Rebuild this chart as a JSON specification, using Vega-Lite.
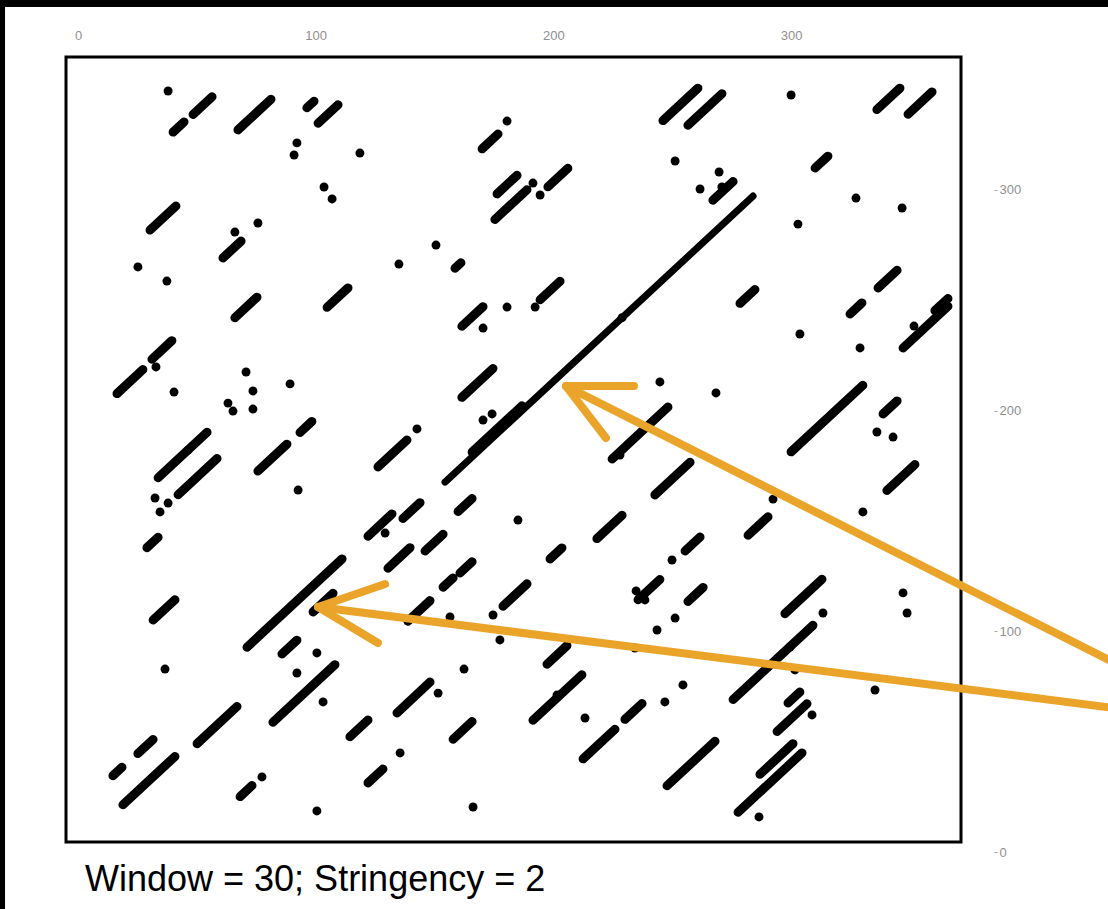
{
  "$schema": "https://vega.github.io/schema/vega-lite/v6.json",
  "width": 895,
  "height": 795,
  "autosize": {"type": "none"},
  "padding": {"left": 66, "top": 57, "right": 147, "bottom": 57},
  "background": "white",
  "config": {"view": {"stroke": null}, "font": "Liberation Sans"},
  "title": {"text": "Window = 30; Stringency = 2", "orient": "bottom", "anchor": "start", "frame": "group", "dx": 19, "offset": -24, "baseline": "alphabetic", "fontSize": 36, "fontWeight": "normal", "color": "black", "font": "Liberation Sans"},
  "datasets": {
    "frame": [{"x": -5.05, "x2": 371.48, "y": 4.53, "y2": 360.22}],
    "border": [{"x": -41.2, "x2": 442.6, "y": 382.9, "y2": 395.1}, {"x": -41.2, "x2": -30.7, "y": -28.5, "y2": 395.1}],
    "diagonal": [{"x": 154.4, "y": 167.6, "x2": 284.0, "y2": 297.2}],
    "segments": [
      {"x": 40.0, "y": 326.2, "x2": 44.6, "y2": 330.8},
      {"x": 48.4, "y": 334.2, "x2": 56.4, "y2": 342.2},
      {"x": 67.3, "y": 327.2, "x2": 81.2, "y2": 341.1},
      {"x": 96.3, "y": 337.2, "x2": 99.3, "y2": 340.2},
      {"x": 101.0, "y": 330.2, "x2": 109.4, "y2": 338.6},
      {"x": 30.3, "y": 281.8, "x2": 41.2, "y2": 292.7},
      {"x": 61.0, "y": 269.2, "x2": 68.6, "y2": 276.8},
      {"x": 66.0, "y": 242.1, "x2": 75.3, "y2": 251.4},
      {"x": 104.8, "y": 246.8, "x2": 113.6, "y2": 255.6},
      {"x": 158.6, "y": 264.5, "x2": 161.1, "y2": 267.0},
      {"x": 170.0, "y": 318.6, "x2": 176.7, "y2": 325.3},
      {"x": 161.5, "y": 238.2, "x2": 170.4, "y2": 247.1},
      {"x": 16.4, "y": 207.7, "x2": 27.3, "y2": 218.6},
      {"x": 31.1, "y": 223.3, "x2": 39.5, "y2": 231.7},
      {"x": 161.5, "y": 206.0, "x2": 174.6, "y2": 219.1},
      {"x": 93.4, "y": 190.1, "x2": 98.4, "y2": 195.1},
      {"x": 165.8, "y": 181.2, "x2": 186.8, "y2": 202.2},
      {"x": 159.9, "y": 154.3, "x2": 165.8, "y2": 160.2},
      {"x": 246.1, "y": 331.4, "x2": 260.8, "y2": 346.1},
      {"x": 256.6, "y": 329.3, "x2": 270.9, "y2": 343.6},
      {"x": 336.1, "y": 336.4, "x2": 345.8, "y2": 346.1},
      {"x": 349.2, "y": 334.3, "x2": 359.3, "y2": 344.4},
      {"x": 267.1, "y": 295.3, "x2": 275.6, "y2": 303.8},
      {"x": 310.1, "y": 309.9, "x2": 315.5, "y2": 315.3},
      {"x": 176.3, "y": 298.2, "x2": 184.7, "y2": 306.6},
      {"x": 175.4, "y": 286.6, "x2": 188.9, "y2": 300.1},
      {"x": 197.7, "y": 301.4, "x2": 206.1, "y2": 309.8},
      {"x": 336.6, "y": 255.6, "x2": 344.6, "y2": 263.6},
      {"x": 278.5, "y": 248.6, "x2": 284.8, "y2": 254.9},
      {"x": 194.4, "y": 250.2, "x2": 202.8, "y2": 258.6},
      {"x": 324.8, "y": 243.8, "x2": 329.8, "y2": 248.8},
      {"x": 347.1, "y": 228.4, "x2": 366.0, "y2": 247.3},
      {"x": 360.5, "y": 245.3, "x2": 366.0, "y2": 250.8},
      {"x": 224.7, "y": 178.1, "x2": 248.2, "y2": 201.6},
      {"x": 300.0, "y": 181.3, "x2": 330.2, "y2": 211.5},
      {"x": 338.7, "y": 198.5, "x2": 344.6, "y2": 204.4},
      {"x": 33.7, "y": 169.6, "x2": 54.3, "y2": 190.2},
      {"x": 42.1, "y": 161.9, "x2": 58.5, "y2": 178.3},
      {"x": 75.7, "y": 172.6, "x2": 87.9, "y2": 184.8},
      {"x": 126.2, "y": 174.5, "x2": 138.4, "y2": 186.7},
      {"x": 29.0, "y": 137.9, "x2": 33.7, "y2": 142.6},
      {"x": 122.0, "y": 143.1, "x2": 132.1, "y2": 153.2},
      {"x": 136.7, "y": 151.1, "x2": 143.9, "y2": 158.3},
      {"x": 130.4, "y": 128.6, "x2": 139.7, "y2": 137.9},
      {"x": 146.0, "y": 136.4, "x2": 153.6, "y2": 144.0},
      {"x": 160.7, "y": 126.4, "x2": 165.8, "y2": 131.5},
      {"x": 153.6, "y": 120.0, "x2": 157.8, "y2": 124.2},
      {"x": 138.8, "y": 104.6, "x2": 148.1, "y2": 113.9},
      {"x": 178.8, "y": 111.4, "x2": 188.9, "y2": 121.5},
      {"x": 31.6, "y": 105.1, "x2": 40.8, "y2": 114.3},
      {"x": 71.1, "y": 92.8, "x2": 111.1, "y2": 132.8},
      {"x": 98.9, "y": 108.8, "x2": 107.3, "y2": 117.2},
      {"x": 85.8, "y": 89.7, "x2": 92.1, "y2": 96.0},
      {"x": 82.0, "y": 58.8, "x2": 108.1, "y2": 84.9},
      {"x": 134.2, "y": 63.0, "x2": 148.1, "y2": 77.0},
      {"x": 50.1, "y": 49.1, "x2": 66.9, "y2": 65.9},
      {"x": 25.2, "y": 44.6, "x2": 31.6, "y2": 51.0},
      {"x": 14.7, "y": 34.6, "x2": 18.5, "y2": 38.4},
      {"x": 18.9, "y": 21.4, "x2": 40.8, "y2": 43.3},
      {"x": 114.4, "y": 52.2, "x2": 122.0, "y2": 59.8},
      {"x": 157.8, "y": 51.1, "x2": 165.8, "y2": 59.1},
      {"x": 122.0, "y": 31.3, "x2": 128.3, "y2": 37.6},
      {"x": 68.2, "y": 25.1, "x2": 73.2, "y2": 30.1},
      {"x": 242.7, "y": 161.8, "x2": 257.5, "y2": 176.6},
      {"x": 340.3, "y": 163.8, "x2": 352.1, "y2": 175.6},
      {"x": 218.3, "y": 142.0, "x2": 228.9, "y2": 152.6},
      {"x": 281.9, "y": 143.5, "x2": 290.3, "y2": 151.9},
      {"x": 198.6, "y": 132.8, "x2": 203.6, "y2": 137.8},
      {"x": 255.4, "y": 136.4, "x2": 261.7, "y2": 142.7},
      {"x": 235.6, "y": 114.3, "x2": 244.8, "y2": 123.5},
      {"x": 256.6, "y": 113.5, "x2": 263.0, "y2": 119.9},
      {"x": 297.4, "y": 108.0, "x2": 313.0, "y2": 123.6},
      {"x": 197.3, "y": 85.1, "x2": 205.7, "y2": 93.5},
      {"x": 275.6, "y": 69.1, "x2": 309.2, "y2": 102.7},
      {"x": 191.4, "y": 59.7, "x2": 212.0, "y2": 80.3},
      {"x": 230.1, "y": 60.1, "x2": 237.3, "y2": 67.3},
      {"x": 298.7, "y": 67.5, "x2": 303.7, "y2": 72.5},
      {"x": 294.1, "y": 54.6, "x2": 306.7, "y2": 67.2},
      {"x": 212.5, "y": 42.2, "x2": 225.9, "y2": 55.6},
      {"x": 247.8, "y": 30.0, "x2": 268.0, "y2": 50.2},
      {"x": 286.9, "y": 35.2, "x2": 300.8, "y2": 49.1},
      {"x": 277.7, "y": 18.0, "x2": 304.6, "y2": 44.9}
    ],
    "dots": [
      {"x": 37.9, "y": 344.8}, {"x": 92.1, "y": 321.3}, {"x": 90.9, "y": 315.8}, {"x": 118.6, "y": 316.7},
      {"x": 103.5, "y": 301.3}, {"x": 106.9, "y": 295.9}, {"x": 66.0, "y": 280.9}, {"x": 75.7, "y": 285.0},
      {"x": 25.2, "y": 265.1}, {"x": 37.4, "y": 258.7}, {"x": 135.0, "y": 266.4}, {"x": 150.6, "y": 275.0},
      {"x": 180.5, "y": 331.2}, {"x": 180.5, "y": 246.9}, {"x": 170.4, "y": 237.4}, {"x": 32.8, "y": 219.8},
      {"x": 40.4, "y": 208.4}, {"x": 70.7, "y": 217.5}, {"x": 73.6, "y": 208.9}, {"x": 63.1, "y": 203.4},
      {"x": 65.2, "y": 199.8}, {"x": 73.6, "y": 200.7}, {"x": 89.2, "y": 212.1}, {"x": 142.6, "y": 191.7},
      {"x": 170.4, "y": 195.7}, {"x": 174.2, "y": 198.5}, {"x": 300.0, "y": 343.0}, {"x": 251.2, "y": 313.1},
      {"x": 269.7, "y": 308.1}, {"x": 261.7, "y": 300.4}, {"x": 270.9, "y": 301.3}, {"x": 327.3, "y": 296.3},
      {"x": 346.7, "y": 291.8}, {"x": 302.9, "y": 284.5}, {"x": 191.4, "y": 303.1}, {"x": 194.4, "y": 297.7},
      {"x": 192.3, "y": 246.9}, {"x": 351.7, "y": 238.3}, {"x": 303.7, "y": 234.7}, {"x": 329.0, "y": 228.4},
      {"x": 244.8, "y": 213.0}, {"x": 268.4, "y": 208.0}, {"x": 228.0, "y": 179.9}, {"x": 336.1, "y": 190.3},
      {"x": 342.9, "y": 188.0}, {"x": 228.9, "y": 242.1}, {"x": 46.3, "y": 182.1}, {"x": 92.6, "y": 164.0},
      {"x": 32.4, "y": 160.4}, {"x": 37.9, "y": 158.1}, {"x": 34.5, "y": 154.1}, {"x": 129.2, "y": 144.5},
      {"x": 156.5, "y": 106.5}, {"x": 174.6, "y": 107.4}, {"x": 177.5, "y": 96.1}, {"x": 100.5, "y": 90.2},
      {"x": 92.1, "y": 81.1}, {"x": 103.1, "y": 68.0}, {"x": 36.6, "y": 82.9}, {"x": 162.4, "y": 82.9},
      {"x": 151.5, "y": 72.0}, {"x": 135.5, "y": 44.9}, {"x": 77.4, "y": 34.0}, {"x": 100.5, "y": 18.6},
      {"x": 166.2, "y": 20.4}, {"x": 330.2, "y": 154.1}, {"x": 292.4, "y": 159.9}, {"x": 185.1, "y": 150.4},
      {"x": 249.9, "y": 132.3}, {"x": 238.5, "y": 114.2}, {"x": 234.8, "y": 118.3}, {"x": 251.2, "y": 106.0},
      {"x": 313.4, "y": 108.3}, {"x": 347.1, "y": 117.4}, {"x": 348.8, "y": 108.3}, {"x": 243.6, "y": 100.6},
      {"x": 234.3, "y": 92.4}, {"x": 299.5, "y": 92.9}, {"x": 301.6, "y": 82.5}, {"x": 201.5, "y": 71.1},
      {"x": 254.5, "y": 75.7}, {"x": 246.9, "y": 68.0}, {"x": 213.3, "y": 60.7}, {"x": 308.8, "y": 62.1},
      {"x": 335.3, "y": 73.4}, {"x": 286.5, "y": 15.9}
    ],
    "arrows": [
      {"x": 205.3, "y": 211.1, "x2": 436.3, "y2": 85.6},
      {"x": 205.3, "y": 211.1, "x2": 233.9, "y2": 211.1},
      {"x": 205.3, "y": 211.1, "x2": 222.1, "y2": 187.6},
      {"x": 101.0, "y": 111.0, "x2": 436.3, "y2": 65.2},
      {"x": 101.0, "y": 111.0, "x2": 129.2, "y2": 121.4},
      {"x": 101.0, "y": 111.0, "x2": 126.2, "y2": 94.7}
    ]
  },
  "encoding": {
    "x": {"field": "x", "type": "quantitative", "scale": {"domain": [-5.05, 371.48], "nice": false, "zero": false},
      "axis": {"orient": "top", "values": [0, 100, 200, 300], "ticks": false, "tickSize": 0, "domain": false, "grid": false, "labelFlush": false, "labelFontSize": 13, "labelColor": "#8f8f8f", "labelPadding": 15, "title": null}},
    "y": {"field": "y", "type": "quantitative", "scale": {"domain": [0, 360.22], "nice": false, "zero": false},
      "axis": {"orient": "right", "values": [0, 100, 200, 300], "ticks": true, "tickSize": 3, "tickColor": "#a8a8a8", "offset": 33, "domain": false, "grid": false, "labelFlush": false, "labelAlign": "left", "labelBaseline": "middle", "labelPadding": 2, "labelFontSize": 13, "labelColor": "#8f8f8f", "title": null}}
  },
  "layer": [
    {"data": {"name": "border"}, "mark": {"type": "rect", "color": "black"},
      "encoding": {"x2": {"field": "x2"}, "y2": {"field": "y2"}}},
    {"data": {"name": "frame"}, "mark": {"type": "rect", "filled": false, "stroke": "black", "strokeWidth": 3},
      "encoding": {"x2": {"field": "x2"}, "y2": {"field": "y2"}}},
    {"data": {"name": "segments"}, "mark": {"type": "rule", "color": "black", "strokeWidth": 9, "strokeCap": "round"},
      "encoding": {"x2": {"field": "x2"}, "y2": {"field": "y2"}}},
    {"data": {"name": "diagonal"}, "mark": {"type": "rule", "color": "black", "strokeWidth": 7, "strokeCap": "round"},
      "encoding": {"x2": {"field": "x2"}, "y2": {"field": "y2"}}},
    {"data": {"name": "dots"}, "mark": {"type": "circle", "color": "black", "opacity": 1, "size": 80}},
    {"data": {"name": "arrows"}, "mark": {"type": "rule", "color": "#EBA42A", "strokeWidth": 8, "strokeCap": "round"},
      "encoding": {"x2": {"field": "x2"}, "y2": {"field": "y2"}}}
  ]
}
